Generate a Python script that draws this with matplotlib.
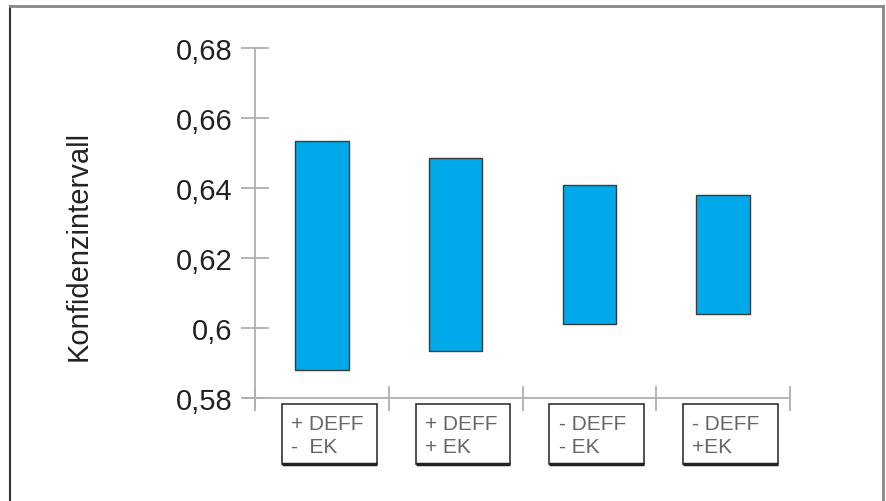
import matplotlib.pyplot as plt
from matplotlib.patches import Rectangle

plt.rcParams['font.family'] = ['Liberation Sans', 'DejaVu Sans']

# === Daten ===
kategorien = ["+ DEFF\n-  EK", "+ DEFF\n+ EK", "- DEFF\n- EK", "- DEFF\n+EK"]
ki_unten = [0.5880, 0.5934, 0.6011, 0.6040]
ki_oben = [0.6534, 0.6486, 0.6409, 0.6380]
y_ticks = [0.58, 0.60, 0.62, 0.64, 0.66, 0.68]
y_labels = ["0,58", "0,6", "0,62", "0,64", "0,66", "0,68"]

# === Layout (Pixel) ===
W, H = 886, 502
ax_l, ax_r, ax_t, ax_b = 245, 790, 49, 408
unit = 3500.0      # Pixel pro Einheit (y)
cat_px = 133.75    # Pixel pro Kategorie (x)
grau = "#b0b0b0"

fig = plt.figure(figsize=(W / 100, H / 100), dpi=100)
ax = fig.add_axes([ax_l / W, 1 - ax_b / H, (ax_r - ax_l) / W, (ax_b - ax_t) / H])

x = [i + 0.5 for i in range(len(kategorien))]
hoehe = [o - u for o, u in zip(ki_oben, ki_unten)]
ax.bar(x, hoehe, bottom=ki_unten, width=0.4, color="#00A9E9",
       edgecolor="#3a3a3a", linewidth=1.0)

ax.set_ylim(0.58 - 9 / unit, 0.68 + 0.5 / unit)
ax.set_xlim(-10 / cat_px, len(kategorien))

for s in ["top", "right"]:
    ax.spines[s].set_visible(False)
ax.spines["left"].set_position(("data", 0))
ax.spines["bottom"].set_position(("data", 0.58))
for s in ["left", "bottom"]:
    ax.spines[s].set_color(grau)
    ax.spines[s].set_linewidth(1.3)

ax.set_yticks(y_ticks)
ax.set_yticklabels(y_labels, fontsize=21, color="#222222")
ax.tick_params(axis="y", direction="inout", length=20, width=1.3, color=grau, pad=6)
ax.set_xticks(range(len(kategorien) + 1))
ax.set_xticklabels([])
ax.tick_params(axis="x", direction="inout", length=18, width=1.3, color=grau)

fig.text(79 / W, 1 - 246 / H, "Konfidenzintervall", rotation=90, fontsize=21,
         color="#222222", ha="center", va="center")

# Beschriftungskästen
box_top = 0.58 - 6 / unit
box_h = 60 / unit
for i, lab in enumerate(kategorien):
    x0 = i + 0.2
    bw = 0.71
    rect = Rectangle((x0, box_top - box_h), bw, box_h, facecolor="white",
                     edgecolor="#333333", lw=1.2, clip_on=False)
    ax.add_patch(rect)
    ax.plot([x0, x0 + bw], [box_top - box_h] * 2, color="#222222", lw=2.5,
            clip_on=False, solid_capstyle="butt")
    ax.text(x0 + 0.07, box_top - 31 / unit, lab, fontsize=15, color="#666666",
            ha="left", va="center", linespacing=1.3)

# Rahmen um die Abbildung
fig.add_artist(plt.Line2D([10 / W, 10 / W], [0, 1 - 7 / H], color="#333333", lw=1.5))
fig.add_artist(plt.Line2D([10 / W, 883 / W], [1 - 7 / H] * 2, color="#888888", lw=2))
fig.add_artist(plt.Line2D([883 / W, 883 / W], [0, 1 - 7 / H], color="#888888", lw=2))

fig.savefig("out.png", dpi=100)
